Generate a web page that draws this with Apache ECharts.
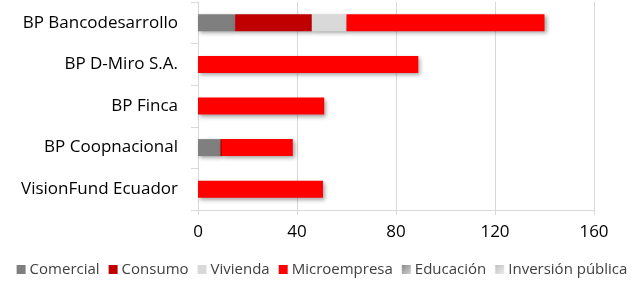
<!DOCTYPE html>
<html><head><meta charset="utf-8">
<script src="https://cdn.jsdelivr.net/npm/echarts@6/dist/echarts.min.js"></script>
<style>html,body{margin:0;padding:0;background:#fff}#c{width:644px;height:283px}</style>
</head><body><div id="c"></div>
<script>
const categories = ['BP Bancodesarrollo','BP D-Miro S.A.','BP Finca','BP Coopnacional','VisionFund Ecuador'];
const seriesNames = ['Comercial','Consumo','Vivienda','Microempresa','Educación','Inversión pública'];
const comercial = [15, 0, 0, 9, 0];
const consumo = [31, 0, 0, 0.7, 0];
const vivienda = [14, 0, 0, 0, 0];
const microempresa = [80, 89, 51, 28.6, 50.5];
const educacion = [0, 0, 0, 0, 0];
const inversion = [0, 0, 0, 0, 0];
const xTicks = [0, 40, 80, 120, 160];

const font = 'Open Sans';
const colors = [
  '#7f7f7f', '#c00000', '#d9d9d9', '#ff0000',
  new echarts.graphic.LinearGradient(0,0,1,1,[{offset:0,color:'#8a8a8a'},{offset:1,color:'#d0d0d0'}]),
  new echarts.graphic.LinearGradient(0,0,1,1,[{offset:0,color:'#bfbfbf'},{offset:1,color:'#ececec'}])
];
const data = [comercial, consumo, vivienda, microempresa, educacion, inversion];
const chart = echarts.init(document.getElementById('c'), null, {renderer:'canvas'});
chart.setOption({
  animation:false,
  grid:{left:198, right:50, top:2, bottom:73},
  legend:{
    bottom:1, left:'center', itemWidth:9, itemHeight:9, itemGap:9,
    icon:'rect',
    textStyle:{fontFamily:font, fontSize:15, color:'#404040', padding:[0,0,0,-1]},
    data:seriesNames
  },
  xAxis:{
    type:'value', min:xTicks[0], max:xTicks[xTicks.length-1], interval:40,
    axisLine:{show:true, lineStyle:{color:'#d9d9d9'}},
    axisTick:{show:true, length:5, lineStyle:{color:'#d9d9d9'}},
    splitLine:{show:true, lineStyle:{color:'#d9d9d9'}},
    axisLabel:{fontFamily:font, fontSize:17, color:'#000', margin:14}
  },
  yAxis:{
    type:'category', data:categories, inverse:true,
    axisLine:{show:true, lineStyle:{color:'#d9d9d9'}},
    axisTick:{show:true, length:7, lineStyle:{color:'#d9d9d9'}},
    axisLabel:{fontFamily:font, fontSize:17, color:'#000', margin:20}
  },
  series: seriesNames.map((n,i)=>({
    name:n, type:'bar', stack:'total', barWidth:17,
    data:data[i],
    itemStyle:{color:colors[i], shadowBlur:4, shadowOffsetX:2, shadowOffsetY:2, shadowColor:'rgba(0,0,0,0.35)'}
  }))
});
</script></body></html>
